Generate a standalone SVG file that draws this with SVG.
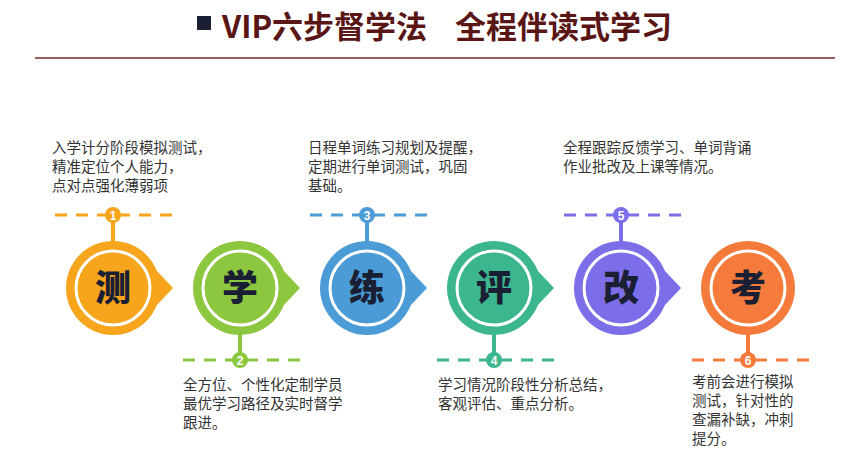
<svg xmlns="http://www.w3.org/2000/svg" width="856" height="461" viewBox="0 0 856 461">
<style>
.t{font-family:"Noto Sans CJK SC","Liberation Sans",sans-serif;font-size:14.5px;fill:#333}
.big{font-family:"Noto Sans CJK SC",sans-serif;font-size:36px;font-weight:900;fill:#1a1f33;text-anchor:middle}
.num{font-family:"Liberation Sans",sans-serif;font-size:12px;font-weight:bold;fill:#fff;text-anchor:middle}
.ring{fill:none;stroke:#fff;stroke-width:3}
.dash{stroke-width:3;stroke-dasharray:12 9}
</style>
<rect width="856" height="461" fill="#fff"/>
<g id="title">
<rect x="197" y="16" width="14" height="14" fill="#1a1f33"/>
<text x="222" y="38" font-family="Noto Sans CJK SC,Liberation Sans,sans-serif" font-size="31" font-weight="bold" fill="#5a1515">VIP六步督学法<tspan x="455">全程伴读式学习</tspan></text>
<line x1="35" y1="58" x2="835" y2="58" stroke="#7a2a2a" stroke-width="1.5"/>
</g>
<g id="connectors">
<line x1="55" y1="215" x2="180" y2="215" stroke="#f7a51c" class="dash"/>
<line x1="113" y1="215" x2="113" y2="245" stroke="#f7a51c" stroke-width="4"/>
<line x1="183" y1="360" x2="305" y2="360" stroke="#8dc63f" class="dash"/>
<line x1="240" y1="330" x2="240" y2="360" stroke="#8dc63f" stroke-width="4"/>
<line x1="310" y1="215" x2="435" y2="215" stroke="#4b9bd6" class="dash"/>
<line x1="367" y1="215" x2="367" y2="245" stroke="#4b9bd6" stroke-width="4"/>
<line x1="437" y1="360" x2="560" y2="360" stroke="#3cb68e" class="dash"/>
<line x1="494" y1="330" x2="494" y2="360" stroke="#3cb68e" stroke-width="4"/>
<line x1="564" y1="215" x2="688" y2="215" stroke="#7b6ee8" class="dash"/>
<line x1="621" y1="215" x2="621" y2="245" stroke="#7b6ee8" stroke-width="4"/>
<line x1="692" y1="360" x2="815" y2="360" stroke="#f47b3c" class="dash"/>
<line x1="748" y1="330" x2="748" y2="360" stroke="#f47b3c" stroke-width="4"/>
</g>
<g id="n1">
<path d="M156 270 L173 288 L156 306 Z" fill="#f7a51c"/>
<circle cx="113" cy="288" r="47" fill="#f7a51c"/><circle cx="113" cy="288" r="37" class="ring"/>
<text x="113" y="301" class="big">测</text>
<circle cx="113" cy="215" r="8" fill="#f7a51c"/><text x="113" y="219.5" class="num">1</text>
<text class="t" x="52" y="153">入学计分阶段模拟测试，</text><text class="t" x="52" y="172">精准定位个人能力，</text><text class="t" x="52" y="191">点对点强化薄弱项</text>
</g>
<g id="n2">
<path d="M283 270 L300 288 L283 306 Z" fill="#8dc63f"/>
<circle cx="240" cy="288" r="47" fill="#8dc63f"/><circle cx="240" cy="288" r="37" class="ring"/>
<text x="240" y="301" class="big">学</text>
<circle cx="240" cy="360" r="8" fill="#8dc63f"/><text x="240" y="364.5" class="num">2</text>
<text class="t" x="183" y="390">全方位、个性化定制学员</text><text class="t" x="183" y="409">最优学习路径及实时督学</text><text class="t" x="183" y="428">跟进。</text>
</g>
<g id="n3">
<path d="M410 270 L427 288 L410 306 Z" fill="#4b9bd6"/>
<circle cx="367" cy="288" r="47" fill="#4b9bd6"/><circle cx="367" cy="288" r="37" class="ring"/>
<text x="367" y="301" class="big">练</text>
<circle cx="367" cy="215" r="8" fill="#4b9bd6"/><text x="367" y="219.5" class="num">3</text>
<text class="t" x="308" y="153">日程单词练习规划及提醒，</text><text class="t" x="308" y="172">定期进行单词测试，巩固</text><text class="t" x="308" y="191">基础。</text>
</g>
<g id="n4">
<path d="M537 270 L554 288 L537 306 Z" fill="#3cb68e"/>
<circle cx="494" cy="288" r="47" fill="#3cb68e"/><circle cx="494" cy="288" r="37" class="ring"/>
<text x="494" y="301" class="big">评</text>
<circle cx="494" cy="360" r="8" fill="#3cb68e"/><text x="494" y="364.5" class="num">4</text>
<text class="t" x="438" y="390">学习情况阶段性分析总结，</text><text class="t" x="438" y="409">客观评估、重点分析。</text>
</g>
<g id="n5">
<path d="M664 270 L681 288 L664 306 Z" fill="#7b6ee8"/>
<circle cx="621" cy="288" r="47" fill="#7b6ee8"/><circle cx="621" cy="288" r="37" class="ring"/>
<text x="621" y="301" class="big">改</text>
<circle cx="621" cy="215" r="8" fill="#7b6ee8"/><text x="621" y="219.5" class="num">5</text>
<text class="t" x="563" y="153">全程跟踪反馈学习、单词背诵</text><text class="t" x="563" y="172">作业批改及上课等情况。</text>
</g>
<g id="n6">
<circle cx="748" cy="288" r="47" fill="#f47b3c"/><circle cx="748" cy="288" r="37" class="ring"/>
<text x="748" y="301" class="big">考</text>
<circle cx="748" cy="360" r="8" fill="#f47b3c"/><text x="748" y="364.5" class="num">6</text>
<text class="t" x="692" y="387">考前会进行模拟</text><text class="t" x="692" y="406">测试，针对性的</text><text class="t" x="692" y="425">查漏补缺，冲刺</text><text class="t" x="692" y="444">提分。</text>
</g>
</svg>
